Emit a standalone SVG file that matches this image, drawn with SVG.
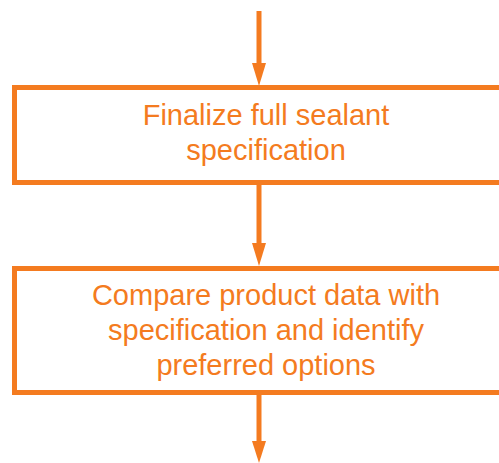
<svg xmlns="http://www.w3.org/2000/svg" width="499" height="463" viewBox="0 0 499 463">
<style>
.box{fill:#fff;stroke:#F47B20;stroke-width:5}
.ln{stroke:#F47B20;stroke-width:5;fill:none}
.ah{fill:#F47B20}
text{font-family:"Liberation Sans",Arial,sans-serif;font-size:29px;fill:#F47B20;text-anchor:middle}
</style>
<rect width="499" height="463" fill="#fff"/>
<g id="connectors">
<line class="ln" x1="259" y1="11" x2="259" y2="66"/>
<polygon class="ah" points="252,63 266,63 259,86"/>
<line class="ln" x1="259" y1="184" x2="259" y2="246"/>
<polygon class="ah" points="252,243 266,243 259,266"/>
<line class="ln" x1="259" y1="394" x2="259" y2="444"/>
<polygon class="ah" points="252,441 266,441 259,463"/>
</g>
<g id="node1">
<rect class="box" x="14.5" y="87.5" width="520" height="95"/>
<text x="266" y="125">Finalize full sealant</text>
<text x="266" y="160">specification</text>
</g>
<g id="node2">
<rect class="box" x="14.5" y="268.5" width="520" height="124"/>
<text x="266" y="305">Compare product data with</text>
<text x="266" y="340">specification and identify</text>
<text x="266" y="375">preferred options</text>
</g>
</svg>
